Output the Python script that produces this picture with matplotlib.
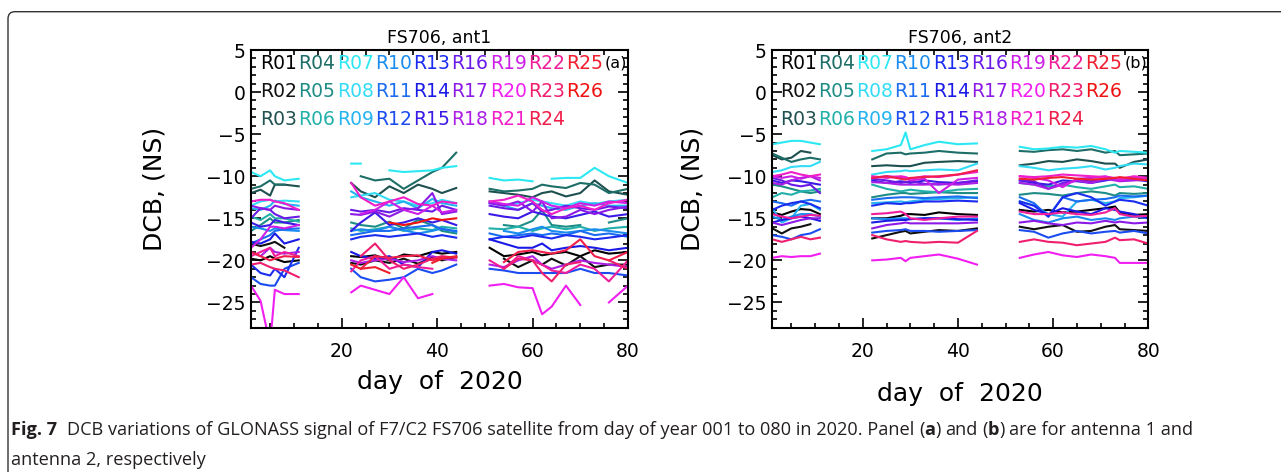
import numpy as np
import matplotlib
matplotlib.use("Agg")
import matplotlib.pyplot as plt
from matplotlib import font_manager
from matplotlib.patches import FancyBboxPatch
from matplotlib.transforms import IdentityTransform
from matplotlib.ticker import MultipleLocator

n = np.nan

# ---------------- data ----------------
labels = ["R%02d" % i for i in range(1, 27)]
colors = ["#000000", "#111111", "#1e5050", "#1d6e68", "#1d8d86", "#22b0aa",
          "#2ce8f2", "#33dcf5", "#26b4f0", "#1a8cf0", "#1a6cf0", "#1a4cf0",
          "#1a2cf0", "#1a1ae6", "#3a1ae6", "#6a1ae6", "#8c1ae6", "#aa1ee6",
          "#cc1ee6", "#f01ef0", "#f01ec8", "#f01e9a", "#f01e6e", "#f01e4a",
          "#f01e2e", "#f01212"]

days_a = [1, 3, 5, 6, 8, 11, 22, 24, 27, 30, 33, 36, 39, 41, 44,
          51, 54, 57, 60, 62, 64, 67, 70, 73, 76, 80]
a_R01 = [-19.8, -20.0, -19.5, -19.8, -20.2, -20.0, -19.5, -19.6, -19.4, -20.0, -19.3, -19.5, -19.0, -19.2, -19.0, -18.5, -19.5, -19.3, -19.0, -19.4, -19.2, -19.0, -19.5, -18.8, -19.2, -19.0]
a_R02 = [-18.0, -18.3, -18.0, -17.8, -18.5, n, -20.3, -20.5, -20.0, -20.3, -19.8, -20.4, -19.6, -20.0, -19.6, n, -19.8, -20.8, -20.0, -20.5, -19.8, -20.6, -19.5, -20.8, -20.5, -20.5]
a_R03 = [-12.0, -11.6, -12.3, -11.0, -11.0, -11.2, -10.8, -11.8, -12.5, -11.2, -12.0, -11.0, -11.5, -12.0, -11.4, -11.8, -12.0, -12.2, -12.5, -12.0, -11.8, -12.4, -12.0, -10.5, -11.8, -12.2]
a_R04 = [-11.5, -11.2, -10.5, -11.0, -11.0, n, n, -10.0, -10.5, -10.3, -11.5, -10.5, -9.5, -9.0, -7.2, -11.5, -11.8, -11.7, -11.5, -11.0, -11.2, -11.4, -10.8, -11.0, -12.0, -11.5]
a_R05 = [-16.5, -15.8, -15.0, -15.5, -15.5, -15.2, -15.5, -15.8, -16.0, -15.4, -16.2, -15.2, -15.8, -16.5, -16.8, n, -15.8, -16.0, -15.3, -14.0, -15.8, -16.0, -15.8, n, -15.5, -15.0]
a_R06 = [-14.8, -15.2, -14.5, -15.0, -15.0, -15.4, -16.2, -16.5, -16.3, -16.0, -16.5, -16.2, -16.4, -16.0, -16.2, -16.2, -16.3, -16.0, -16.5, -16.2, -16.0, -16.3, -16.0, -16.5, -16.2, -16.0]
a_R07 = [-9.5, -10.0, -9.3, -10.0, -10.5, -10.3, -8.5, -8.5, n, -9.3, -9.5, -9.4, -9.3, -9.0, -8.8, -10.2, -10.5, -10.4, -10.6, n, -10.3, -10.2, -10.2, -9.0, -10.0, -10.8]
a_R08 = [-13.5, -13.0, -12.8, -13.0, -12.9, -13.0, -12.5, -12.3, -12.0, -12.8, -13.0, -13.5, -13.2, -12.8, -13.2, -13.0, -13.5, -13.2, -12.8, -13.0, -13.2, -13.5, -13.0, -13.3, -13.0, -12.8]
a_R09 = [-13.8, -14.0, -13.5, -12.9, -13.3, -13.5, -11.8, -12.5, -13.0, -13.5, -13.0, -13.8, -12.7, -13.2, -13.5, -13.2, -13.5, -14.0, -13.2, -13.5, -13.8, -14.0, -13.5, -13.2, -13.5, -13.5]
a_R10 = [-16.0, -16.2, -16.5, -16.2, -16.4, -16.5, -16.5, -16.3, -16.5, -16.0, -16.4, -16.8, -16.5, -16.2, -16.6, n, -16.5, -16.8, -16.3, -16.0, -16.5, -16.7, -16.5, -16.3, -16.5, -16.8]
a_R11 = [-18.0, -17.5, -17.0, -16.5, -16.3, -16.2, -17.0, -16.8, -16.5, -16.5, -16.2, -16.0, -15.8, -16.3, -16.5, -16.8, -17.2, -17.0, -16.8, -17.0, -16.8, -17.0, -16.5, -17.0, -16.8, -17.2]
a_R12 = [-22.0, -22.8, -23.0, -23.0, -21.0, -20.3, -21.0, -22.0, -22.5, -22.3, -22.0, -21.0, -21.5, -21.2, -20.5, -21.0, -21.2, -21.5, -21.5, -21.5, -21.5, -21.5, -21.0, -21.5, -21.5, -21.8]
a_R13 = [-20.5, -21.5, -21.8, -21.0, -22.0, -18.5, -17.5, -17.2, -17.0, -17.2, -17.0, -16.8, -17.2, -17.0, -17.3, -17.5, -17.2, -17.3, -17.0, -17.2, -17.4, -17.0, -17.2, -17.5, -17.3, -17.0]
a_R14 = [-17.8, -18.0, -17.5, -16.8, -18.0, -17.5, -19.0, -19.5, -19.8, -19.5, -20.5, -20.8, -19.0, -18.8, -19.2, -17.5, -18.0, -18.5, -18.5, -18.0, -18.8, -18.5, -18.3, -18.5, -18.8, -18.5]
a_R15 = [-15.5, -16.0, -15.8, -15.2, -15.5, -15.8, -16.5, -15.5, -14.3, -15.8, -15.5, -15.0, -15.5, -15.2, -15.8, -14.5, -14.8, -15.0, -14.2, -14.5, -14.8, -15.0, -14.6, -14.2, -14.8, -14.5]
a_R16 = [-15.0, -13.8, -14.0, -14.5, -15.0, -14.8, -14.0, -14.2, -14.0, -14.3, -13.8, -14.0, -14.2, -13.5, -14.0, -13.5, -13.8, -14.0, -13.2, -14.2, -14.0, -13.5, -13.8, -14.0, -13.6, -13.8]
a_R17 = [-13.5, -13.8, -14.0, -13.5, -13.8, -14.0, -14.5, -14.6, -14.2, -14.8, -14.0, -13.8, -12.0, -14.5, -14.2, -13.2, -13.5, -13.0, -14.2, -13.0, -15.0, -14.8, -14.0, -14.5, -14.0, -13.6]
a_R18 = [-19.0, -19.5, -18.5, -19.0, -19.2, -19.0, -20.0, -20.3, -20.0, -19.8, -20.2, -20.0, -19.5, -19.8, -20.0, -20.5, -20.8, -20.0, -19.5, -20.5, -21.0, -20.5, -20.0, -20.3, -20.5, -20.8]
a_R19 = [-18.5, -17.5, -16.0, -16.0, -16.2, -15.8, n, -14.5, -14.0, -13.0, -14.0, -14.5, -13.5, -14.3, -14.0, -13.0, -13.3, -13.5, -12.5, -13.0, -13.5, -13.8, -13.2, -13.5, -13.0, -13.2]
a_R20 = [-23.0, -24.8, -30.0, -23.5, -24.0, -24.0, -23.8, -23.0, -23.5, -24.0, -22.0, -24.5, -24.0, n, n, -23.0, -22.8, -23.2, -23.3, -26.4, -25.5, -23.0, -25.3, n, -25.0, -23.0]
a_R21 = [-13.0, -12.8, -12.8, -13.0, -13.2, -14.0, -10.8, -12.5, -13.5, -13.0, -12.5, -13.3, -13.5, -13.0, -13.2, -13.0, -12.8, -12.3, -13.0, -14.0, -14.5, -13.8, -13.5, -14.0, -13.2, -12.8]
a_R22 = [-19.5, -19.0, -18.5, -19.5, -19.0, -19.5, -21.3, -20.0, -19.5, -21.0, -20.5, -20.8, -21.0, n, n, -20.0, -21.0, -19.5, -20.0, -20.5, -21.2, -21.5, -20.5, -21.0, -22.5, -20.0]
a_R23 = [-20.5, -20.3, -20.8, -21.0, -21.2, -22.0, n, -19.5, -18.0, -20.0, -21.0, -20.5, -19.8, -19.5, -19.7, n, -21.0, -19.8, -20.0, -21.5, -22.5, -20.5, -20.2, n, -20.0, -21.0]
a_R24 = [-19.0, -19.5, -20.0, -19.8, -19.5, -19.6, n, -21.0, -19.5, -19.7, -19.5, -19.4, -20.0, -19.7, -19.6, n, -20.2, -19.0, -18.8, -19.0, -19.2, -18.8, -17.5, -19.5, -20.0, -19.0]
a_R25 = [n, n, n, n, n, n, -20.5, -21.0, -20.8, -21.5, n, n, -20.3, -19.8, -19.5, n, n, n, n, n, n, n, n, n, n, n]
a_R26 = [n, n, n, n, n, n, n, n, n, -15.5, -15.8, -15.5, -15.0, -15.2, -15.0, n, n, n, n, n, n, n, n, n, n, n]

days_b = [1, 3, 5, 7, 9, 11, 22, 25, 28, 29, 30, 33, 36, 40, 44,
          53, 56, 59, 62, 65, 68, 71, 73, 74, 77, 80]
b_R01 = [-14.3, -14.6, -14.2, -13.9, -14.0, -14.5, -15.0, -15.0, -14.7, -14.5, -14.5, -14.6, -14.3, -14.5, -14.6, -14.0, -14.2, -14.0, -14.3, -14.2, -14.0, -13.8, -13.6, -14.3, -14.6, -14.5]
b_R02 = [-16.2, -16.8, -16.2, -16.0, -15.7, n, -17.4, -17.0, -16.6, -16.5, -16.8, -16.6, -16.4, -16.5, -16.2, -16.0, -16.3, -16.0, -15.8, -16.6, -16.5, -16.0, -15.8, -16.3, -16.4, -16.5]
b_R03 = [-7.5, -8.0, -7.8, -7.0, -7.2, n, -8.8, -8.7, -8.8, -8.8, -8.8, -8.4, -8.3, -8.2, -8.3, -8.7, -8.5, -8.2, -8.3, -8.0, -8.2, -8.5, -8.5, -9.0, -8.3, -8.0]
b_R04 = [-7.3, -7.8, -8.3, -8.0, -7.8, -8.0, -8.0, -7.3, -7.2, -7.4, -7.3, -7.2, -7.0, -7.2, -7.3, -7.0, -7.1, -6.9, -6.8, -7.0, -6.8, -7.2, -7.0, -7.5, -7.4, -7.3]
b_R05 = [-11.0, -11.2, -11.5, -11.8, -12.0, -11.8, -12.5, -12.2, -12.0, -12.0, -12.1, -12.0, -11.9, -12.0, -12.0, -12.2, -12.0, -12.1, -12.3, -12.0, -11.8, -12.0, -12.3, -12.0, -12.1, -12.0]
b_R06 = [-12.5, -12.0, -12.2, -11.8, -11.7, -11.5, -11.0, -11.5, -11.8, -11.7, -11.6, -11.8, -11.9, -11.6, -11.5, -10.8, -11.0, -11.2, -11.0, -11.3, -11.5, -11.2, -11.0, -11.3, -11.2, -11.5]
b_R07 = [-6.2, -6.0, -5.8, -5.8, -6.0, -6.2, -7.0, -6.8, -6.3, -4.8, -6.8, -6.3, -5.9, -6.2, -6.1, -6.5, -6.8, -6.7, -6.5, -6.6, -6.4, -6.8, -7.2, -7.0, -7.1, -7.2]
b_R08 = [-9.5, -9.3, -8.9, -8.8, -8.8, -8.3, -9.8, -9.5, -9.4, -9.3, -9.4, -9.3, -9.2, -9.3, -8.5, -8.8, -9.0, -9.3, -9.1, -9.0, -8.8, -9.2, -9.0, -8.8, -8.5, -8.6]
b_R09 = [-13.8, -15.5, -15.0, -13.5, -13.3, -14.0, -13.2, -13.1, -13.0, -13.1, -13.0, -12.8, -12.7, -12.6, -12.5, -13.0, -13.5, -14.5, -14.8, -13.0, -12.8, -13.2, -13.0, -12.6, -12.5, -12.3]
b_R10 = [-14.8, -15.2, -14.8, -14.5, -14.5, -14.8, -15.0, -15.1, -15.0, -15.0, -15.1, -15.0, -15.0, -15.2, -15.0, -14.5, -15.2, -15.5, -15.0, -14.8, -15.2, -15.0, -15.2, -15.0, -14.8, -15.0]
b_R11 = [-13.0, -13.2, -13.5, -13.0, -12.8, -13.0, -12.8, -12.6, -12.5, -12.5, -12.5, -12.6, -12.5, -12.4, -12.6, -12.5, -13.2, -14.8, -12.5, -13.0, -12.8, -12.7, -12.5, -12.3, -12.4, -12.3]
b_R12 = [-17.0, -17.2, -17.5, -17.0, -16.8, -16.3, -16.7, -16.5, -16.4, -16.3, -16.5, -16.5, -16.6, -16.5, -16.4, -16.4, -16.6, -17.3, -16.8, -16.5, -16.8, -16.6, -16.5, -16.7, -16.5, -16.8]
b_R13 = [-14.0, -13.5, -13.2, -13.0, -13.3, -13.8, -13.5, -13.2, -13.3, -13.2, -13.2, -13.0, -13.0, -12.9, -13.0, -13.0, -13.5, -14.8, -12.5, -12.0, -12.5, -13.5, -13.0, -12.8, -13.0, -13.5]
b_R14 = [-15.5, -15.2, -15.0, -14.8, -15.0, -15.3, -15.5, -15.3, -15.2, -15.2, -15.1, -15.0, -15.0, -15.1, -15.2, -13.2, -14.0, -14.5, -13.8, -14.2, -14.5, -13.8, -14.0, -14.2, -14.5, -15.0]
b_R15 = [-10.5, -10.8, -10.5, -10.6, -10.8, -11.0, -10.5, -10.8, -10.6, -10.7, -10.8, -10.5, -10.7, -10.8, -10.6, -10.5, -10.8, -11.0, -10.5, -10.6, -10.8, -10.5, -10.3, -10.5, -10.4, -10.6]
b_R16 = [-10.2, -10.5, -11.0, -11.2, -11.0, -12.0, -10.3, -10.5, -10.8, -10.7, -10.6, -10.9, -11.0, -10.8, -10.5, -10.5, -10.6, -11.5, -10.8, -10.5, -10.6, -10.4, -10.2, -10.5, -10.4, -10.3]
b_R17 = [-15.5, -15.8, -15.5, -15.2, -15.0, -15.0, -16.2, -15.8, -15.6, -15.5, -15.6, -15.6, -15.6, -15.6, -15.5, -15.5, -15.3, -15.6, -15.8, -15.5, -15.6, -15.3, -15.5, -15.4, -15.6, -15.5]
b_R18 = [-10.8, -11.0, -10.5, -10.2, -10.0, -10.5, -10.7, -10.8, -11.0, -11.0, -11.0, -11.0, -10.9, -11.0, -10.8, -10.8, -11.0, -11.5, -11.0, -10.5, -10.8, -10.3, -10.5, -10.6, -10.5, -10.4]
b_R19 = [-10.0, -10.2, -10.0, -10.3, -10.0, -10.2, -10.2, -10.0, -10.1, -10.2, -10.5, -10.3, -12.0, -10.4, -10.2, -10.0, -10.2, -10.5, -11.3, -10.3, -10.2, -10.0, -10.3, -10.5, -10.2, -10.3]
b_R20 = [-19.7, -19.5, -19.6, -19.5, -19.5, -19.2, -20.0, -19.9, -19.7, -20.1, -19.7, -19.5, -19.3, -19.8, -20.5, -19.7, -19.3, -19.0, -19.4, -19.6, -19.3, -19.5, -19.7, -20.3, -20.3, -20.3]
b_R21 = [-10.0, -9.8, -9.5, -9.8, -10.0, -9.8, -10.0, -10.2, -10.0, -10.1, -10.3, -10.0, -10.1, -9.8, -9.5, -10.0, -10.1, -10.0, -9.8, -9.9, -10.0, -10.1, -10.2, -10.3, -10.0, -10.2]
b_R22 = [-14.5, -14.8, -15.0, -14.8, -14.6, -14.7, -14.5, -14.4, -14.2, -14.5, -15.0, -15.2, -15.0, -14.8, -14.8, -14.2, -14.5, -14.5, -14.3, -14.5, -14.6, -14.3, -13.8, -14.5, -14.8, -14.7]
b_R23 = [-17.5, -17.8, -17.5, -17.2, -17.5, -17.3, -17.0, -17.5, -17.8, -17.7, -17.8, -17.9, -17.8, -17.9, -16.5, -17.8, -17.5, -17.8, -17.9, -18.2, -18.0, -17.8, -17.3, -17.6, -17.5, -18.0]
b_R24 = [n, n, n, n, n, n, -10.2, -10.0, -10.3, -10.4, -10.2, -10.1, -10.0, -9.8, -9.3, n, n, n, n, n, n, n, n, n, n, n]
b_R25 = [n, n, n, n, n, n, n, n, n, n, n, n, n, n, n, -10.3, -10.4, -10.2, -10.1, -10.3, -10.4, -10.3, -10.2, -10.1, -10.3, -10.5]
b_R26 = [n, n, n, n, n, n, n, n, n, n, n, n, n, n, n, n, n, n, n, n, n, n, n, n, n, n]

series_a = [a_R01, a_R02, a_R03, a_R04, a_R05, a_R06, a_R07, a_R08, a_R09, a_R10,
            a_R11, a_R12, a_R13, a_R14, a_R15, a_R16, a_R17, a_R18, a_R19, a_R20,
            a_R21, a_R22, a_R23, a_R24, a_R25, a_R26]
series_b = [b_R01, b_R02, b_R03, b_R04, b_R05, b_R06, b_R07, b_R08, b_R09, b_R10,
            b_R11, b_R12, b_R13, b_R14, b_R15, b_R16, b_R17, b_R18, b_R19, b_R20,
            b_R21, b_R22, b_R23, b_R24, b_R25, b_R26]

titles = ["FS706, ant1", "FS706, ant2"]
tags = ["(a)", "(b)"]
caption1_parts = [("Fig. 7", "bold"),
                  ("DCB variations of GLONASS signal of F7/C2 FS706 satellite from day of year 001 to 080 in 2020. Panel", "normal"),
                  ("(", "normal"), ("a", "bold"), (")", "normal"),
                  ("and", "normal"), ("(", "normal"), ("b", "bold"), (")", "normal"),
                  ("are for antenna 1 and", "normal")]
caption2 = "antenna 2, respectively"

# ---------------- figure ----------------
W, H = 1281, 472
fig = plt.figure(figsize=(W / 100, H / 100), dpi=100)
plt.rcParams["font.family"] = ["DejaVu Sans"]

frame = FancyBboxPatch((8, -60), 1400, (H - 11.7) + 60,
                       boxstyle="round,pad=0,rounding_size=7",
                       transform=IdentityTransform(), fill=False,
                       edgecolor="#333333", linewidth=1.0)
fig.patches.append(frame)

axes_px = [(251, 628), (772.3, 1148.3)]
top_px, bot_px = 50, 327.7
ylab_x = [-0.257, -0.213]
xlab_y = [-0.221, -0.264]

def segments(days, vals):
    d = np.asarray(days, float)
    v = np.asarray(vals, float)
    breaks = np.where(np.diff(d) > 5)[0] + 1
    return zip(np.split(d, breaks), np.split(v, breaks))

for k, (days, series) in enumerate([(days_a, series_a), (days_b, series_b)]):
    x0, x1 = axes_px[k]
    ax = fig.add_axes([x0 / W, (H - bot_px) / H, (x1 - x0) / W, (bot_px - top_px) / H])
    for vals, c in zip(series, colors):
        for dd, vv in segments(days, vals):
            ax.plot(dd, vv, color=c, lw=1.5)
    ax.set_xlim(1, 80)
    ax.set_ylim(-28, 5)
    ax.xaxis.set_major_locator(MultipleLocator(20))
    ax.xaxis.set_minor_locator(MultipleLocator(5))
    ax.yaxis.set_major_locator(MultipleLocator(5))
    ax.yaxis.set_minor_locator(MultipleLocator(1))
    ax.tick_params(which="both", direction="in", top=True, right=True, width=1.2)
    ax.tick_params(which="major", length=7)
    ax.tick_params(which="minor", length=3.5)
    ax.tick_params(axis="y", which="major", labelsize=13.5, pad=4)
    ax.tick_params(axis="x", which="major", labelsize=13.5, pad=10)
    for s in ax.spines.values():
        s.set_linewidth(1.5)
    ax.text(0.5, 1 + 6.7 / (bot_px - top_px), titles[k], transform=ax.transAxes,
            ha="center", va="baseline", fontsize=12.5)
    ax.text(ylab_x[k], 0.5, "DCB, (NS)", transform=ax.transAxes, rotation=90,
            ha="center", va="center", fontsize=18)
    ax.text(0.5, xlab_y[k], "day  of  2020", transform=ax.transAxes,
            ha="center", va="baseline", fontsize=18)
    col0 = 0.024 if k == 0 else 0.020
    for i, (lab, c) in enumerate(zip(labels, colors)):
        col, row = i // 3, i % 3
        ax.text(col0 + col * 0.1016, 0.952 - row * 0.102, lab, color=c,
                transform=ax.transAxes, ha="left", va="center", fontsize=13.5)
    ax.text(0.997, 0.952, tags[k], color="black",
            transform=ax.transAxes, ha="right", va="center", fontsize=11.5)

# ---------------- caption ----------------
names = {f.name for f in font_manager.fontManager.ttflist}
cap_family = "Liberation Sans Narrow" if "Liberation Sans Narrow" in names else "Open Sans"
renderer = fig.canvas.get_renderer()

def width_of(s, weight, size):
    t = fig.text(0, 0, s, fontsize=size, fontweight=weight, family=cap_family)
    w = t.get_window_extent(renderer).width
    t.remove()
    return w

def layout(size, draw=False, y=0):
    sp = width_of("a a", "normal", size) - width_of("aa", "normal", size)
    x = 11.0
    for j, (s, wgt) in enumerate(caption1_parts):
        if draw:
            fig.text(x / W, y, s, fontsize=size, fontweight=wgt, family=cap_family,
                     ha="left", va="baseline", color="#231f20")
        x += width_of(s, wgt, size)
        nxt = caption1_parts[j + 1][0] if j + 1 < len(caption1_parts) else ""
        if j == 0:
            x += 2 * sp
        elif s == "(" or s in ("a", "b") or nxt == ")":
            pass
        else:
            x += sp
    return x

size = 14.0
wtot = layout(size) - 11
size = size * (1197.0 / wtot)
layout(size, draw=True, y=(H - 435) / H)
fig.text(11 / W, (H - 465) / H, caption2, fontsize=size, family=cap_family,
         ha="left", va="baseline", color="#231f20")

fig.savefig("out.png", dpi=100)
